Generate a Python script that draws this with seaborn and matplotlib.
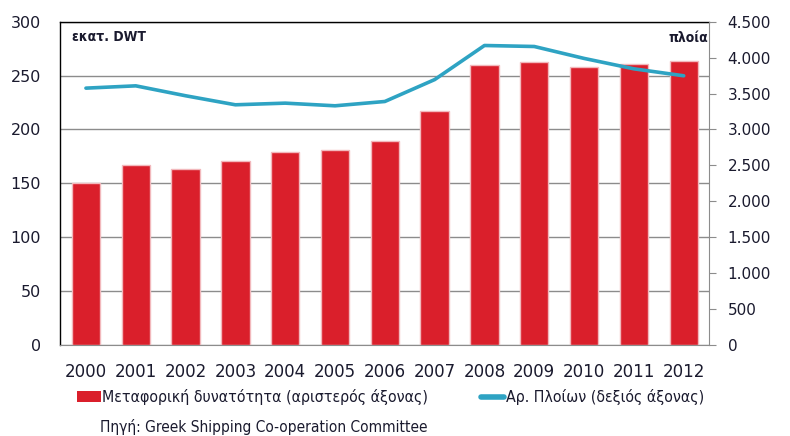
import numpy as np
import pandas as pd
import matplotlib
matplotlib.use("Agg")
import matplotlib.pyplot as plt
import seaborn as sns
from matplotlib.patches import Patch
from matplotlib.lines import Line2D
from matplotlib.font_manager import FontProperties

years = ["2000", "2001", "2002", "2003", "2004", "2005", "2006",
         "2007", "2008", "2009", "2010", "2011", "2012"]
capacity = [150, 167, 163, 171, 179, 181, 189, 217, 260, 263, 258, 261, 264]
ships = [3576, 3608, 3470, 3344, 3367, 3330, 3390, 3695, 4170, 4156, 3990, 3845, 3748]

left_ticks = [0, 50, 100, 150, 200, 250, 300]
right_ticks = [0, 500, 1000, 1500, 2000, 2500, 3000, 3500, 4000, 4500]
right_labels = ["0", "500", "1.000", "1.500", "2.000", "2.500", "3.000", "3.500", "4.000", "4.500"]

bar_color = "#DA1F2B"
line_color = "#2EA3C3"
text_color = "#1A1A2E"

sns.set_style("white")
plt.rcParams["font.family"] = ["DejaVu Sans"]

narrow_x = FontProperties(family="DejaVu Sans", stretch="condensed", size=13.3)
narrow_leg = FontProperties(family="DejaVu Sans", stretch="condensed", size=11.4)
narrow_src = FontProperties(family="DejaVu Sans", stretch="condensed", size=11.1)
bold_lbl = FontProperties(family="DejaVu Sans", stretch="condensed", weight="bold", size=10)

df = pd.DataFrame({"year": years, "capacity": capacity, "ships": ships})

fig = plt.figure(figsize=(7.9, 4.36), dpi=100)
ax = fig.add_axes([0.076, 0.209, 0.821, 0.741])

sns.barplot(data=df, x="year", y="capacity", color=bar_color, width=0.57,
            edgecolor="#F2B8BC", linewidth=1, saturation=1, ax=ax)
ax.set_ylim(0, 300)
ax.set_xlim(-0.52, 12.5)
ax.set_yticks(left_ticks)
ax.yaxis.grid(True, color="#8C8C8C", linewidth=1)
ax.set_axisbelow(True)
ax.set_xlabel("")
ax.set_ylabel("")
ax.tick_params(axis="y", length=0, labelsize=11.5, pad=13.7, labelcolor=text_color)
ax.tick_params(axis="x", length=0, pad=13, labelcolor=text_color)
for lbl in ax.get_xticklabels():
    lbl.set_fontproperties(narrow_x)
for side in ["left", "top"]:
    ax.spines[side].set_color("black")
    ax.spines[side].set_linewidth(1)
ax.spines["bottom"].set_color("#8C8C8C")
ax.spines["right"].set_visible(False)

ax2 = ax.twinx()
sns.lineplot(data=df, x="year", y="ships", color=line_color, linewidth=2.6, ax=ax2)
ax2.set_ylim(0, 4500)
ax2.set_xlim(-0.52, 12.5)
ax2.set_yticks(right_ticks)
ax2.set_yticklabels(right_labels)
ax2.set_ylabel("")
ax2.tick_params(axis="y", direction="out", length=5, color="#8C8C8C",
                labelsize=11, pad=8.6, labelcolor=text_color)
for side in ["left", "top", "bottom"]:
    ax2.spines[side].set_visible(False)
ax2.spines["right"].set_color("#8C8C8C")

ax.text(0.019, 0.953, "εκατ. DWT", transform=ax.transAxes,
        fontproperties=bold_lbl, ha="left", va="center", color=text_color)
ax.text(0.999, 0.95, "πλοία", transform=ax.transAxes,
        fontproperties=bold_lbl, ha="right", va="center", color=text_color)

handles = [Patch(facecolor=bar_color, edgecolor="none"),
           Line2D([0], [0], color=line_color, linewidth=4, solid_capstyle="round")]
labels = ["Μεταφορική δυνατότητα (αριστερός άξονας)", "Αρ. Πλοίων (δεξιός άξονας)"]
leg = fig.legend(handles, labels, loc="center left",
                 bbox_to_anchor=(77 / 790, 1 - 397 / 436),
                 ncol=2, frameon=False, borderpad=0, borderaxespad=0,
                 handlelength=1.5, handletextpad=0.1, handleheight=0.65,
                 columnspacing=3.3, prop=narrow_leg)
for t in leg.get_texts():
    t.set_color(text_color)

fig.text(100 / 790, 1 - 427 / 436, "Πηγή: Greek Shipping Co-operation Committee",
         fontproperties=narrow_src, ha="left", va="center", color=text_color)

fig.savefig("out.png", dpi=100)
